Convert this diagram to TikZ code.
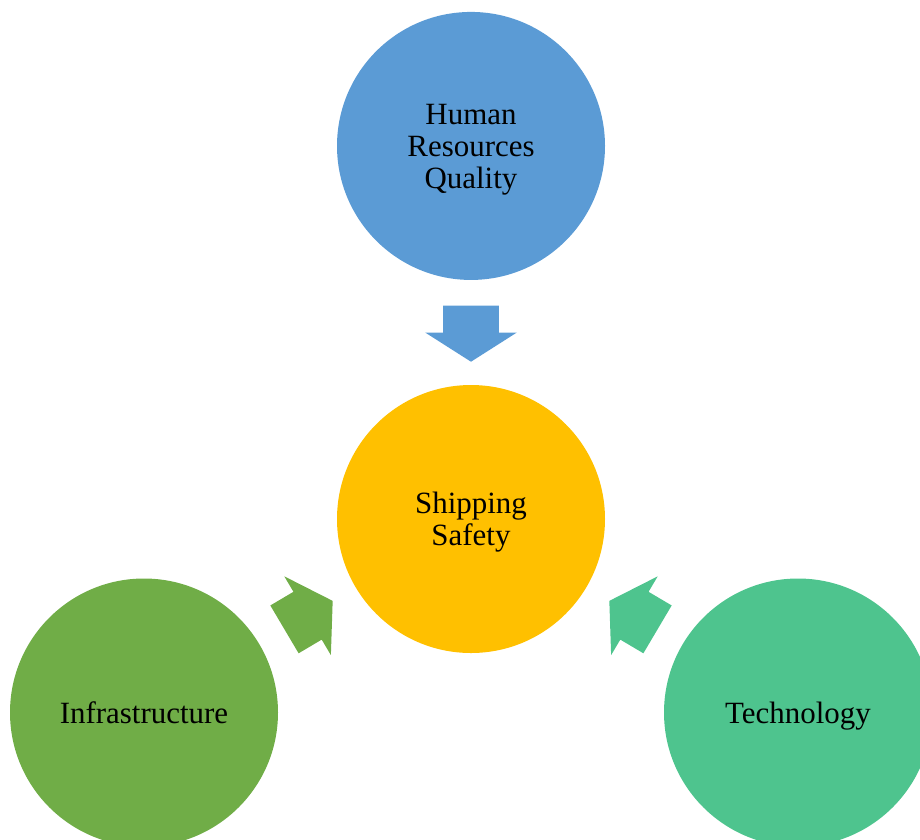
\documentclass[tikz,border=0pt]{standalone}
\usepackage{fontspec}
\setmainfont{Liberation Serif}
\usetikzlibrary{shapes.arrows, positioning, calc}
\definecolor{hrcolor}{RGB}{91,155,213}
\definecolor{safetycolor}{RGB}{255,192,0}
\definecolor{infracolor}{RGB}{112,173,71}
\definecolor{techcolor}{RGB}{78,196,142}

\begin{document}
\begin{tikzpicture}[
    factor/.style={circle, fill=#1, draw=none, minimum size=6.7cm, inner sep=0pt,
        align=center, text=black, text depth=0pt, font=\fontsize{22}{22.8}\selectfont},
    flowarrow/.style={single arrow, fill=#1, draw=none, inner xsep=0pt, inner ysep=0.6875cm,
        minimum height=1.4cm, single arrow head extend=0.45cm, single arrow tip angle=115},
]
% page frame
\useasboundingbox (0,0) rectangle (23,-20.975);
\clip (0,0) rectangle (23,-20.975);

% === FACTORS ===
\node[factor=safetycolor] (safety) at (11.775,-12.975) {Shipping\\Safety};
\node[factor=hrcolor, above=2.6125cm of safety] (hrq) {Human\\Resources\\Quality};
\node[factor=infracolor] (infra) at (3.6,-17.8125) {Infrastructure};
\node[factor=techcolor] (tech) at (19.95,-17.8125) {Technology};

% === ARROWS (halfway, pointing to the centre) ===
\node[flowarrow=hrcolor, rotate=-90, xshift=-0.19cm] (hrq_arrow) at ($(hrq)!0.5!(safety)$) {};
\node[flowarrow=infracolor, rotate=30.6, xshift=-0.19cm] (infra_arrow) at ($(infra)!0.5!(safety)$) {};
\node[flowarrow=techcolor, rotate=149.4, xshift=-0.19cm] (tech_arrow) at ($(tech)!0.5!(safety)$) {};
\end{tikzpicture}
\end{document}
